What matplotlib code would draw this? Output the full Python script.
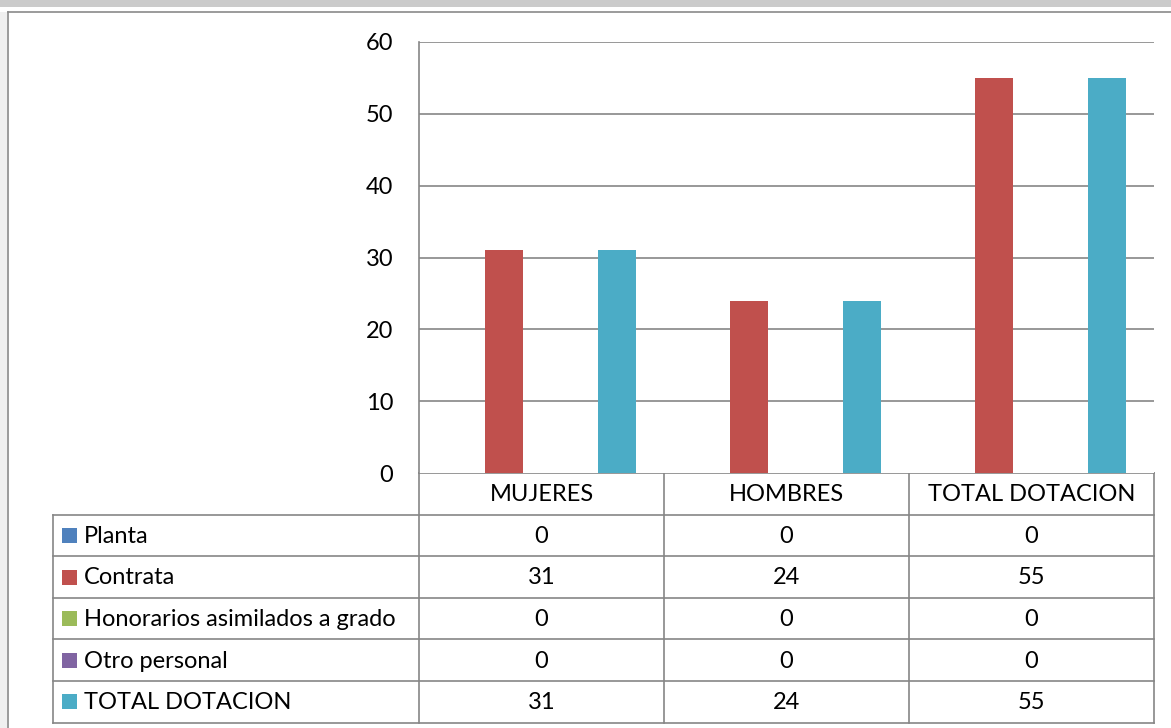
import matplotlib
matplotlib.use("Agg")
import matplotlib.pyplot as plt
from matplotlib.patches import Rectangle

plt.rcParams['font.family'] = ['Lato', 'DejaVu Sans']

# data
categories = ['MUJERES', 'HOMBRES', 'TOTAL DOTACION']
series_names = ['Planta', 'Contrata', 'Honorarios asimilados a grado', 'Otro personal', 'TOTAL DOTACION']
planta = [0, 0, 0]
contrata = [31, 24, 55]
honorarios = [0, 0, 0]
otro = [0, 0, 0]
total = [31, 24, 55]
series_values = [planta, contrata, honorarios, otro, total]
colors = ['#4F81BD', '#C0504D', '#9BBB59', '#8064A2', '#4BACC6']
yticks = [0, 10, 20, 30, 40, 50, 60]

W, H = 1171, 728
FS = 17
LINE = '#868686'

fig = plt.figure(figsize=(W / 100, H / 100), dpi=100)

# overlay in pixel coordinates for frame and data table
bg = fig.add_axes([0, 0, 1, 1])
bg.set_xlim(0, W)
bg.set_ylim(H, 0)
bg.axis('off')

# window frame
bg.add_patch(Rectangle((0, 0), W, 7, color='#cbcbcb', lw=0))
bg.add_patch(Rectangle((0, 12), 7, H, color='#f0f0f0', lw=0))
bg.plot([8, W], [12, 12], color='#8a8a8a', lw=1.2)
bg.plot([8, 8], [12, H], color='#8a8a8a', lw=1.2)

# plot area (pixels)
px0, px1 = 419, 1154
py_top, py_bot = 42, 473
ax = fig.add_axes([px0 / W, 1 - py_bot / H, (px1 - px0) / W, (py_bot - py_top) / H])
ax.set_xlim(0, len(categories))
ax.set_ylim(0, 60)

n = len(series_names)
w = 1 / (n + 1.5)
for i, (vals, c) in enumerate(zip(series_values, colors)):
    xs = [k + 0.75 * w + i * w for k in range(len(categories))]
    ax.bar(xs, vals, width=w, align='edge', color=c, zorder=3)

for t in yticks[1:]:
    ax.axhline(t, color=LINE, lw=1.2, zorder=1)
ax.set_yticks(yticks)
ax.set_yticklabels([str(t) for t in yticks], fontsize=FS)
ax.tick_params(axis='y', length=0, pad=18.5)
ax.set_xticks([])
for s in ['top', 'right', 'bottom']:
    ax.spines[s].set_visible(False)
ax.spines['left'].set_color(LINE)
ax.spines['left'].set_linewidth(1.2)

# data table
col_w = (px1 - px0) / len(categories)
row_h = 41.6
tab_left = 53
rows_top = py_bot + row_h
n_rows = len(series_names)
tab_bot = rows_top + n_rows * row_h

bg.plot([px0, px1], [py_bot, py_bot], color=LINE, lw=1.2)
for r in range(n_rows + 1):
    y = rows_top + r * row_h
    bg.plot([tab_left, px1], [y, y], color=LINE, lw=1.2)
bg.plot([tab_left, tab_left], [rows_top, tab_bot], color=LINE, lw=1.2)
for k in range(len(categories) + 1):
    x = px0 + k * col_w
    bg.plot([x, x], [py_bot, tab_bot], color=LINE, lw=1.2)

for k, cat in enumerate(categories):
    bg.text(px0 + (k + 0.5) * col_w, py_bot + row_h / 2 + 1, cat,
            ha='center', va='center', fontsize=FS)

for r, (name, vals, c) in enumerate(zip(series_names, series_values, colors)):
    yc = rows_top + (r + 0.5) * row_h
    bg.add_patch(Rectangle((62, yc - 7.5), 15, 15, color=c, lw=0))
    bg.text(84, yc + 1, name, ha='left', va='center', fontsize=FS)
    for k, v in enumerate(vals):
        bg.text(px0 + (k + 0.5) * col_w, yc + 1, str(v),
                ha='center', va='center', fontsize=FS)

fig.savefig('out.png', dpi=100)
